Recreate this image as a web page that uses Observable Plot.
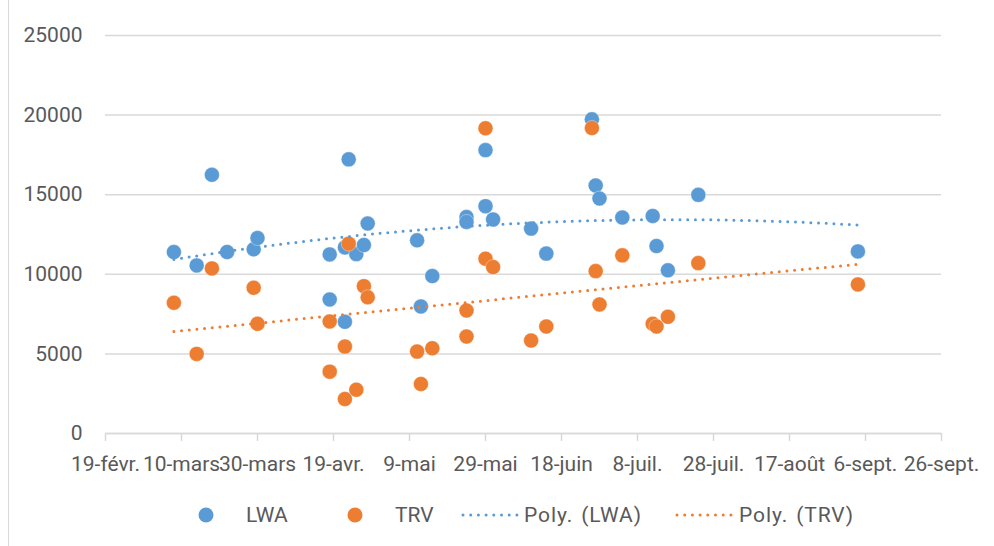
<!DOCTYPE html>
<html><head><meta charset="utf-8">
<script src="https://cdn.jsdelivr.net/npm/d3@7"></script>
<script src="https://cdn.jsdelivr.net/npm/@observablehq/plot@0.6"></script>
<style>
body{margin:0;background:#fff;font-family:Roboto,sans-serif;}
#wrap{position:relative;width:994px;height:546px;overflow:hidden;background:#fff;}
#border{position:absolute;left:8px;top:0;height:546px;border-left:1px solid #d9d9d9;}
#legend{position:absolute;left:0;top:500px;width:994px;height:30px;font-size:21px;color:#595959;}
#legend .it{position:absolute;top:0;height:30px;line-height:30px;white-space:nowrap;}
#legend .wide{letter-spacing:0.9px;word-spacing:2px;}
#legend svg{position:absolute;top:0;}
</style></head>
<body>
<div id="wrap"><div id="chart"></div><div id="border"></div><div id="legend"></div></div>
<script>
// ---- data ----
const lwaDates = ["2020-03-08","2020-03-14","2020-03-18","2020-03-22","2020-03-29","2020-03-30","2020-04-18","2020-04-18","2020-04-22","2020-04-22","2020-04-23","2020-04-25","2020-04-27","2020-04-28","2020-05-11","2020-05-12","2020-05-15","2020-05-24","2020-05-24","2020-05-29","2020-05-29","2020-05-31","2020-06-10","2020-06-14","2020-06-26","2020-06-27","2020-06-28","2020-07-04","2020-07-12","2020-07-13","2020-07-16","2020-07-24","2020-09-04"];
const lwaValues = [11400,10560,16250,11400,11570,12280,11250,8420,11690,7015,17220,11270,11840,13190,12135,7980,9890,13600,13290,14280,17800,13440,12870,11300,19735,15580,14760,13565,13665,11775,10250,14990,11440];
const trvDates = ["2020-03-08","2020-03-14","2020-03-18","2020-03-29","2020-03-30","2020-04-18","2020-04-18","2020-04-22","2020-04-22","2020-04-23","2020-04-25","2020-04-27","2020-04-28","2020-05-11","2020-05-12","2020-05-15","2020-05-24","2020-05-24","2020-05-29","2020-05-29","2020-05-31","2020-06-10","2020-06-14","2020-06-26","2020-06-27","2020-06-28","2020-07-04","2020-07-12","2020-07-13","2020-07-16","2020-07-24","2020-09-04"];
const trvValues = [8210,5000,10370,9155,6890,7035,3885,5460,2165,11925,2750,9255,8560,5145,3110,5355,7725,6090,10980,19170,10455,5840,6720,19190,10200,8105,11190,6890,6720,7330,10705,9365];
const xTickDates = ["2020-02-19","2020-03-10","2020-03-30","2020-04-19","2020-05-09","2020-05-29","2020-06-18","2020-07-08","2020-07-28","2020-08-17","2020-09-06","2020-09-26"];
const xTickLabels = ["19-févr.","10-mars","30-mars","19-avr.","9-mai","29-mai","18-juin","8-juil.","28-juil.","17-août","6-sept.","26-sept."];
const yTicks = [0,5000,10000,15000,20000,25000];
const seriesNames = ["LWA","TRV"];
const trendNames = ["Poly. (LWA)","Poly. (TRV)"];
const colors = ["#5B9BD5","#ED7D31"];

const parse = d3.utcParse("%Y-%m-%d");
const lwa = lwaDates.map((d,i)=>({date:parse(d), value:lwaValues[i]}));
const trv = trvDates.map((d,i)=>({date:parse(d), value:trvValues[i]}));
const labelMap = new Map(xTickDates.map((d,i)=>[+parse(d), xTickLabels[i]]));

// order-2 polynomial least squares trendline (as the spreadsheet's "Poly." trendline)
function polyFit(rows){
  const t0 = d3.min(rows,r=>r.date), day = 864e5;
  const xs = rows.map(r=>(r.date-t0)/day), ys = rows.map(r=>r.value);
  const S = k=>d3.sum(xs,x=>x**k), T = k=>d3.sum(xs,(x,i)=>x**k*ys[i]);
  const A = [[S(0),S(1),S(2),T(0)],[S(1),S(2),S(3),T(1)],[S(2),S(3),S(4),T(2)]];
  for(let i=0;i<3;i++){for(let j=i+1;j<3;j++){const f=A[j][i]/A[i][i];for(let k=i;k<4;k++)A[j][k]-=f*A[i][k];}}
  const c=[0,0,0];
  for(let i=2;i>=0;i--){let s=A[i][3];for(let k=i+1;k<3;k++)s-=A[i][k]*c[k];c[i]=s/A[i][i];}
  const xmax = d3.max(xs), out=[];
  for(let x=0;x<=xmax;x+=1) out.push({date:new Date(+t0+x*day), value:c[0]+c[1]*x+c[2]*x*x});
  return out;
}
const lwaTrend = polyFit(lwa), trvTrend = polyFit(trv);

const chart = Plot.plot({
  width:994, height:546,
  marginLeft:105, marginRight:53, marginTop:35, marginBottom:113,
  x:{type:"utc", domain:[parse(xTickDates[0]), parse(xTickDates[xTickDates.length-1])]},
  y:{domain:[0,25000]},
  style:{fontFamily:"Roboto, sans-serif", fontSize:"21px", color:"#595959", background:"transparent", overflow:"visible"},
  marks:[
    Plot.gridY(yTicks,{stroke:"#d9d9d9", strokeOpacity:1, strokeWidth:1.5}),
    Plot.axisY({ticks:yTicks, tickSize:0, tickPadding:23, tickFormat:d=>String(d), label:null, fill:"#595959"}),
    Plot.ruleY([0],{stroke:"#d9d9d9", strokeWidth:1.5}),
    Plot.axisX({ticks:xTickDates.map(parse), tickFormat:d=>labelMap.get(+d), tickSize:8, tickPadding:15, stroke:"#d9d9d9", strokeOpacity:1, strokeWidth:1.5, label:null, fill:"#595959"}),
    Plot.dot(lwa,{x:"date", y:"value", r:7.5, fill:colors[0], stroke:"white", strokeWidth:0.6, strokeOpacity:0.6}),
    Plot.dot(trv,{x:"date", y:"value", r:7.5, fill:colors[1], stroke:"white", strokeWidth:0.6, strokeOpacity:0.6}),
    Plot.line(lwaTrend,{x:"date", y:"value", stroke:colors[0], strokeWidth:3, strokeDasharray:"0 7.7", strokeLinecap:"round"}),
    Plot.line(trvTrend,{x:"date", y:"value", stroke:colors[1], strokeWidth:3, strokeDasharray:"0 7.7", strokeLinecap:"round"})
  ]
});
document.getElementById("chart").appendChild(chart);

// ---- legend ----
const lg = document.getElementById("legend");
const ns = "http://www.w3.org/2000/svg";
function swatch(left, width, kind, color){
  const s = document.createElementNS(ns,"svg");
  s.setAttribute("width",width); s.setAttribute("height",30);
  s.style.left = left+"px";
  if(kind==="dot"){
    const c = document.createElementNS(ns,"circle");
    c.setAttribute("cx",width/2); c.setAttribute("cy",15); c.setAttribute("r",7.5); c.setAttribute("fill",color);
    s.appendChild(c);
  } else {
    const l = document.createElementNS(ns,"line");
    l.setAttribute("x1",2); l.setAttribute("x2",width-2); l.setAttribute("y1",15); l.setAttribute("y2",15);
    l.setAttribute("stroke",color); l.setAttribute("stroke-width",3);
    l.setAttribute("stroke-dasharray","0 7.7"); l.setAttribute("stroke-linecap","round");
    s.appendChild(l);
  }
  lg.appendChild(s);
}
function label(left, txt, cls){
  const d = document.createElement("div"); d.className="it"+(cls?" "+cls:""); d.style.left=left+"px"; d.textContent=txt; lg.appendChild(d);
}
swatch(196,20,"dot",colors[0]); label(246, seriesNames[0]);
swatch(345,20,"dot",colors[1]); label(395, seriesNames[1]);
swatch(461,62,"line",colors[0]); label(524, trendNames[0], "wide");
swatch(675,62,"line",colors[1]); label(739, trendNames[1], "wide");
</script>
</body></html>
